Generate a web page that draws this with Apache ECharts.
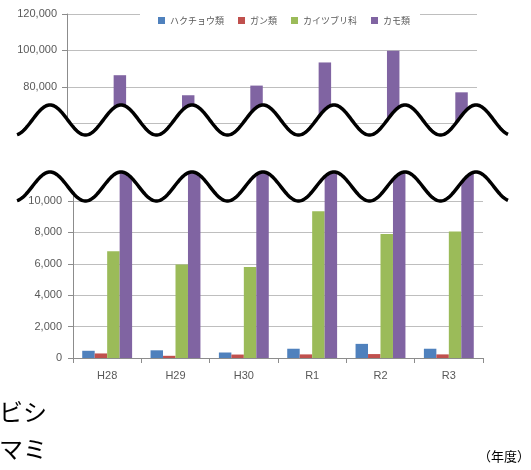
<!DOCTYPE html>
<html>
<head>
<meta charset="utf-8">
<script src="https://cdn.jsdelivr.net/npm/echarts@6/dist/echarts.min.js"></script>
<style>
html,body{margin:0;padding:0;background:#fff;}
#main{width:531px;height:470px;}
</style>
</head>
<body>
<div id="main"></div>
<script>
const categories = ['H28', 'H29', 'H30', 'R1', 'R2', 'R3'];
const swans = [460, 490, 350, 590, 900, 590];        // ハクチョウ類
const geese = [290, 140, 220, 230, 250, 230];        // ガン類
const grebes = [6800, 5950, 5800, 9350, 7900, 8050]; // カイツブリ科
const ducks = [86400, 75400, 80700, 93400, 99800, 77000]; // カモ類
const seriesNames = ['ハクチョウ類', 'ガン類', 'カイツブリ科', 'カモ類'];
const colors = ['#4F81BD', '#C0504D', '#9BBB59', '#8064A2'];
const topAxis = { min: 60000, max: 120000, interval: 20000 };
const bottomAxis = { min: 0, max: 12000, interval: 2000 };

const labelFont = 'Liberation Sans, Arial, sans-serif';
const cjkFont = '"Noto Sans CJK JP", sans-serif';
const gridColor = '#BEBEBE';
const axisColor = '#8C8C8C';

function wave(cy, amp) {
  const pts = [];
  for (let x = 17; x <= 508; x += 1) {
    pts.push([x, cy - amp * Math.cos(2 * Math.PI * (x - 50) / 71)]);
  }
  return pts;
}
const topWave = wave(120, 15);
const bottomWave = wave(186.5, 14.5);
const gapPoly = topWave.concat(bottomWave.slice().reverse());

const chart = echarts.init(document.getElementById('main'), null, { renderer: 'canvas' });

const valueData = [swans, geese, grebes, ducks];
const series = [];
[0, 1].forEach(function (gi) {
  valueData.forEach(function (d, i) {
    series.push({
      name: seriesNames[i],
      type: 'bar',
      xAxisIndex: gi,
      yAxisIndex: gi,
      data: d,
      clip: true,
      barGap: '0%',
      barCategoryGap: '27%',
      itemStyle: { color: colors[i] }
    });
  });
});

function yAxisCfg(gi, ax, margin, showMin) {
  return {
    type: 'value', gridIndex: gi, min: ax.min, max: ax.max, interval: ax.interval,
    axisLine: { show: true, lineStyle: { color: axisColor, width: 1 } },
    axisTick: { show: true, inside: false, length: 5, lineStyle: { color: axisColor } },
    splitLine: { show: true, lineStyle: { color: gridColor, width: 1 } },
    axisLabel: {
      color: '#595959', fontFamily: labelFont, fontSize: 11, margin: margin,
      showMinLabel: showMin,
      formatter: function (v) { return v.toLocaleString('en-US'); }
    }
  };
}

chart.setOption({
  animation: false,
  backgroundColor: '#fff',
  color: colors,
  legend: {
    left: 140, top: 10,
    padding: [6, 10, 6, 18],
    backgroundColor: '#fff',
    itemWidth: 7, itemHeight: 7, itemGap: 14,
    icon: 'rect',
    textStyle: { fontFamily: cjkFont, fontSize: 9, color: '#595959' },
    data: [
      { name: seriesNames[0], textStyle: { width: 53 } },
      { name: seriesNames[1], textStyle: { width: 37 } },
      { name: seriesNames[2], textStyle: { width: 54 } },
      { name: seriesNames[3], textStyle: { width: 35 } }
    ]
  },
  grid: [
    { left: 67, right: 54, top: 14, bottom: 470 - 123.3, containLabel: false },
    { left: 73, right: 48, top: 169.6, bottom: 112, containLabel: false }
  ],
  xAxis: [
    { type: 'category', gridIndex: 0, data: categories,
      axisLine: { show: false }, axisTick: { show: false }, axisLabel: { show: false } },
    { type: 'category', gridIndex: 1, data: categories,
      axisLine: { show: true, lineStyle: { color: axisColor } },
      axisTick: { show: true, length: 5, lineStyle: { color: axisColor } },
      axisLabel: { color: '#595959', fontFamily: labelFont, fontSize: 11, margin: 12 } }
  ],
  yAxis: [ yAxisCfg(0, topAxis, 10, false), yAxisCfg(1, bottomAxis, 11, true) ],
  series: series,
  graphic: [
    { type: 'polygon', z: 100, shape: { points: gapPoly }, style: { fill: '#fff', stroke: null } },
    { type: 'polyline', z: 101, shape: { points: topWave }, style: { stroke: '#000', lineWidth: 3.5, fill: null } },
    { type: 'polyline', z: 101, shape: { points: bottomWave }, style: { stroke: '#000', lineWidth: 3.5, fill: null } },
    { type: 'text', z: 102, left: -1, top: 400, style: { text: 'ビシ', fontFamily: cjkFont, fontSize: 24, fill: '#000' } },
    { type: 'text', z: 102, left: -1, top: 437, style: { text: 'マミ', fontFamily: cjkFont, fontSize: 24, fill: '#000' } },
    { type: 'text', z: 102, left: 478, top: 450, style: { text: '（年度）', fontFamily: cjkFont, fontSize: 13, fill: '#000' } }
  ]
});
</script>
</body>
</html>
